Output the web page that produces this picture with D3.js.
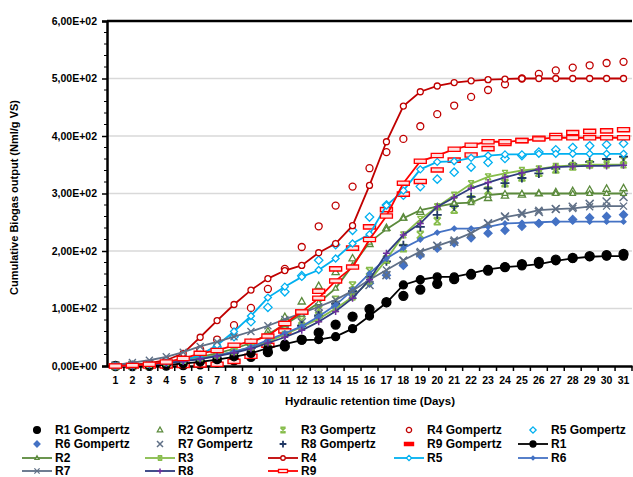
<!DOCTYPE html>
<html>
<head>
<meta charset="utf-8">
<script src="https://cdn.jsdelivr.net/npm/d3@7"></script>
<style>
  body { margin: 0; background: #fff; }
  text { font-family: "Liberation Sans", Arial, sans-serif; font-weight: bold; fill: #000; }
</style>
</head>
<body>
<svg id="chart" width="633" height="477"></svg>
<script>
// days on the x axis
var days = d3.range(1, 32);
var yTicks = [0, 100, 200, 300, 400, 500, 600];

// measured (line) series
var r1 = [0,0.5,1,2,4,7,11,16,22,31,38,45,46,51,65,87,110,141,150,155,155,161,168,172,174,177,183,187,190,191,191];
var r2 = [0,2,4,7,11,16,22,30,40,55,72,90,110,135,175,215,238,257,271,277,283,284,297,300,300,300,300,300,300,300,300];
var r3 = [0,1.5,3,6,10,14,19,25,33,42,55,68,82,100,120,148,185,228,255,277,297,317,329,335,340,343,347,349,350,350,350];
var r4 = [0,2,5,10,22,50,79,107,132,152,166,175,197,213,244,314,390,452,477,487,493,496,498,499,500,500,500,500,500,500,500];
var r5 = [0,1,3,6,10,19,36,60,87,119,138,155,167,187,213,229,279,305,342,355,356,362,366,368,368,369,369,369,369,369,369];
var r6 = [0,1,3,5,9,13,18,25,33,45,57,69,86,106,132,161,187,205,220,232,239,239,242,248,249,250,251,251,251,251,251];
var r7 = [2,6,10,16,24,34,42,51,60,70,81,92,103,115,131,150,167,184,199,209,219,231,248,259,264,271,273,274,277,278,278];
var r8 = [0,1,2.5,5,8,12,17,23,30,40,50,62,77,95,118,150,196,228,248,277,293,309,319,328,336,342,346,347,348,348,349];
var r9 = [0,1,3,7,13,22,27,36,43,52,74,94,118,148,172,220,261,318,356,366,377,384,390,390,392,395,397,397,397,397,397];

// gompertz fits (markers only)
var g1 = [0,0,0.2,0.6,1.5,3,6,10,16,24,34,46,58,72,86,99,111,122,133,143,151,159,166,172,177,181,185,188,191,193,195];
var g2 = [0,0.5,1.5,3.5,7,12,19,28,40,60,85,112,139,163,187,212,240,258,268,276,283,288,292,296,298,300,302,304,306,308,309];
var g3 = [0,0.5,1.5,3,6,10,16,24,34,47,62,80,98,115,140,165,185,205,228,252,272,290,305,318,328,336,342,347,351,354,358];
var g4 = [0.3,1,3,7,15,29,46,71,101,134,169,207,243,279,312,344,372,395,417,438,453,468,480,490,500,508,514,519,523,527,529];
var g5 = [0,0.5,1.5,4,9,18,33,51,77,102,129,157,184,211,236,259,280,297,312,325,337,346,354,361,366,372,376,380,383,385,387];
var g6 = [0,0.5,1.5,3,6,10,15,22,31,42,55,70,86,104,124,144,158,175,193,205,214,223,231,236,243,248,251,255,258,260,263];
var g7 = [0.5,1.5,3,6,10,15,21,29,38,49,62,76,91,107,124,141,158,183,196,209,216,230,248,260,266,268,273,277,282,286,294];
var g8 = [0,0.5,1.5,3,6,10,15,22,31,42,55,70,88,108,130,155,182,210,242,263,278,294,309,318,327,335,343,351,355,360,364];
var g9 = [0,0,0,0.3,1,2,3,8,17,36,61,94,130,169,205,242,272,299,321,341,358,367,378,387,392,396,401,406,408,409,411];

var svg = d3.select("#chart");
var margin = {left: 107, right: 632, top: 21, bottom: 366};

var x = d3.scaleBand().domain(days).range([margin.left, margin.right]);
var y = d3.scaleLinear().domain([0, 600]).range([margin.bottom, margin.top]);

// marker shapes
function shapePath(type, r) {
  if (type == "diamond") return "M0," + (-r) + "L" + r + ",0L0," + r + "L" + (-r) + ",0Z";
  if (type == "triangle") return "M0," + (-r) + "L" + (r * 0.9) + "," + (r * 0.6) + "L" + (-r * 0.9) + "," + (r * 0.6) + "Z";
  if (type == "x") return "M" + (-r) + "," + (-r) + "L" + r + "," + r + "M" + (-r) + "," + r + "L" + r + "," + (-r);
  if (type == "plus") return "M" + (-r) + ",0L" + r + ",0M0," + (-r) + "L0," + r;
  if (type == "star") return "M" + (-r) + "," + (-r) + "L" + r + "," + r + "M" + (-r) + "," + r + "L" + r + "," + (-r) +
    "M" + (-r) + "," + (-r) + "L" + r + "," + (-r) + "M" + (-r) + "," + r + "L" + r + "," + r;
  if (type == "dash") return "M" + (-r) + "," + (-r * 0.35) + "L" + r + "," + (-r * 0.35) +
    "L" + r + "," + (r * 0.35) + "L" + (-r) + "," + (r * 0.35) + "Z";
  // circle
  return d3.arc()({innerRadius: 0, outerRadius: r, startAngle: 0, endAngle: 2 * Math.PI});
}

function drawMarker(g, m, cx, cy, k) {
  k = k || 1;
  var p = g.append("path")
    .attr("d", shapePath(m.type, m.r * k))
    .attr("transform", "translate(" + cx + "," + cy + ")")
    .attr("stroke", m.color)
    .attr("stroke-width", m.sw || 1.3);
  if (m.fill) p.attr("fill", m.fill); else p.attr("fill", "none");
  return p;
}

var gomp = [
  {name: "R1 Gompertz", values: g1, m: {type: "circle", r: 4.5, color: "#000", fill: "#000"}},
  {name: "R2 Gompertz", values: g2, m: {type: "triangle", r: 4, color: "#5b8a3c", fill: "#fff"}},
  {name: "R3 Gompertz", values: g3, m: {type: "star", r: 3.5, color: "#86bc4a", sw: 1.6}},
  {name: "R4 Gompertz", values: g4, m: {type: "circle", r: 3.5, color: "#c00000", fill: "#fff"}},
  {name: "R5 Gompertz", values: g5, m: {type: "diamond", r: 4.2, color: "#00b0f0", fill: "#fff"}},
  {name: "R6 Gompertz", values: g6, m: {type: "diamond", r: 4, color: "#4472c4", fill: "#4472c4"}},
  {name: "R7 Gompertz", values: g7, m: {type: "x", r: 4, color: "#5f6f86", sw: 1.5}},
  {name: "R8 Gompertz", values: g8, m: {type: "plus", r: 4.5, color: "#203864", sw: 1.8}},
  {name: "R9 Gompertz", values: g9, m: {type: "dash", r: 6, color: "#ff0000", fill: "#ffe0e0", sw: 1.4}}
];

var lines = [
  {name: "R1", values: r1, color: "#000", m: {type: "circle", r: 4, color: "#000", fill: "#000"}},
  {name: "R2", values: r2, color: "#5b8a3c", m: {type: "triangle", r: 3, color: "#5b8a3c", fill: "#fff"}},
  {name: "R3", values: r3, color: "#86bc4a", m: {type: "star", r: 3, color: "#86bc4a"}},
  {name: "R4", values: r4, color: "#c00000", m: {type: "circle", r: 3, color: "#c00000", fill: "#fff"}},
  {name: "R5", values: r5, color: "#00b0f0", m: {type: "diamond", r: 3.5, color: "#00b0f0", fill: "#fff"}},
  {name: "R6", values: r6, color: "#4472c4", m: {type: "diamond", r: 2.5, color: "#4472c4", fill: "#4472c4"}},
  {name: "R7", values: r7, color: "#5f6f86", m: {type: "x", r: 3.5, color: "#5f6f86"}},
  {name: "R8", values: r8, color: "#2e3c7e", m: {type: "plus", r: 3.5, color: "#7030a0", sw: 1.5}},
  {name: "R9", values: r9, color: "#ff0000", m: {type: "dash", r: 6, color: "#ff0000", fill: "#ffe0e0"}}
];

// gridlines
svg.append("g").selectAll("line")
  .data(yTicks.filter(function (d) { return d > 0 && d < 600; }))
  .enter().append("line")
  .attr("x1", margin.left).attr("x2", margin.right)
  .attr("y1", function (d) { return y(d); }).attr("y2", function (d) { return y(d); })
  .attr("stroke", "#d9d9d9").attr("stroke-width", 1.3);

svg.append("line")
  .attr("x1", margin.left).attr("x2", margin.right)
  .attr("y1", y(600)).attr("y2", y(600))
  .attr("stroke", "#000").attr("stroke-width", 2.5);

// y axis
var yAxis = d3.axisLeft(y).tickValues(yTicks).tickSize(5).tickPadding(5)
  .tickFormat(function (d) {
    if (d == 0) return "0,00E+00";
    var e = Math.floor(Math.log10(d));
    return (d / Math.pow(10, e)).toFixed(2).replace(".", ",") + "E+" + (e < 10 ? "0" + e : e);
  });
var ya = svg.append("g").attr("transform", "translate(" + margin.left + ",0)").call(yAxis);
ya.select(".domain").attr("stroke", "#000").attr("stroke-width", 2.5);
ya.selectAll(".tick line").attr("stroke", "#000").attr("stroke-width", 1.5);
ya.selectAll("text").style("font-size", "10.5px").attr("fill", "#000");

// minor ticks
svg.append("g").selectAll("line")
  .data(d3.range(0, 601, 20).filter(function (d) { return d % 100 != 0; }))
  .enter().append("line")
  .attr("x1", margin.left - 3).attr("x2", margin.left)
  .attr("y1", function (d) { return y(d); }).attr("y2", function (d) { return y(d); })
  .attr("stroke", "#000").attr("stroke-width", 1);

// x axis
var xAxis = d3.axisBottom(x).tickSize(0).tickPadding(11);
var xa = svg.append("g").attr("transform", "translate(0," + margin.bottom + ")").call(xAxis);
xa.select(".domain").attr("stroke", "#000").attr("stroke-width", 2.5);
xa.selectAll("text").style("font-size", "10.5px").attr("fill", "#000");
xa.selectAll("line.sep")
  .data(days.slice(1).concat([32]))
  .enter().append("line").attr("class", "sep")
  .attr("x1", function (d) { return x(d - 1) + x.bandwidth(); })
  .attr("x2", function (d) { return x(d - 1) + x.bandwidth(); })
  .attr("y1", 0).attr("y2", 5)
  .attr("stroke", "#000").attr("stroke-width", 1.5);

// axis titles
svg.append("text")
  .attr("transform", "translate(18," + ((margin.top + margin.bottom) / 2 + 4) + ") rotate(-90)")
  .attr("text-anchor", "middle").style("font-size", "11px")
  .text("Cumulative Biogas output (Nml/g VS)");
svg.append("text")
  .attr("x", 370).attr("y", 405)
  .attr("text-anchor", "middle").style("font-size", "11.5px")
  .text("Hydraulic retention time (Days)");

// gompertz markers
gomp.forEach(function (s) {
  var g = svg.append("g");
  s.values.forEach(function (v, i) {
    drawMarker(g, s.m, x(days[i]) + x.bandwidth() / 2, y(v));
  });
});

// measured lines with markers
var line = d3.line()
  .x(function (d, i) { return x(days[i]) + x.bandwidth() / 2; })
  .y(function (d) { return y(d); });

lines.forEach(function (s) {
  var g = svg.append("g");
  g.append("path").datum(s.values)
    .attr("d", line).attr("fill", "none")
    .attr("stroke", s.color).attr("stroke-width", 1.8);
  s.values.forEach(function (v, i) {
    drawMarker(g, s.m, x(days[i]) + x.bandwidth() / 2, y(v));
  });
});

// legend, 5 columns
var legendItems = gomp.concat(lines);
var colX = [22, 145, 268, 394, 518];
var rowY = [430, 444, 458, 471];
legendItems.forEach(function (s, i) {
  var cx = colX[i % 5], cy = rowY[Math.floor(i / 5)];
  var g = svg.append("g");
  if (s.color) {
    g.append("line").attr("x1", cx).attr("x2", cx + 30).attr("y1", cy).attr("y2", cy)
      .attr("stroke", s.color).attr("stroke-width", 1.8);
  }
  var mk = drawMarker(g, s.m, cx + 15, cy, 0.75);
  if (s.m.type == "dash" && !s.color) mk.attr("fill", s.m.color);
  g.append("text").attr("x", cx + 33).attr("y", cy + 4)
    .style("font-size", "12px").text(s.name);
});
</script>
</body>
</html>
